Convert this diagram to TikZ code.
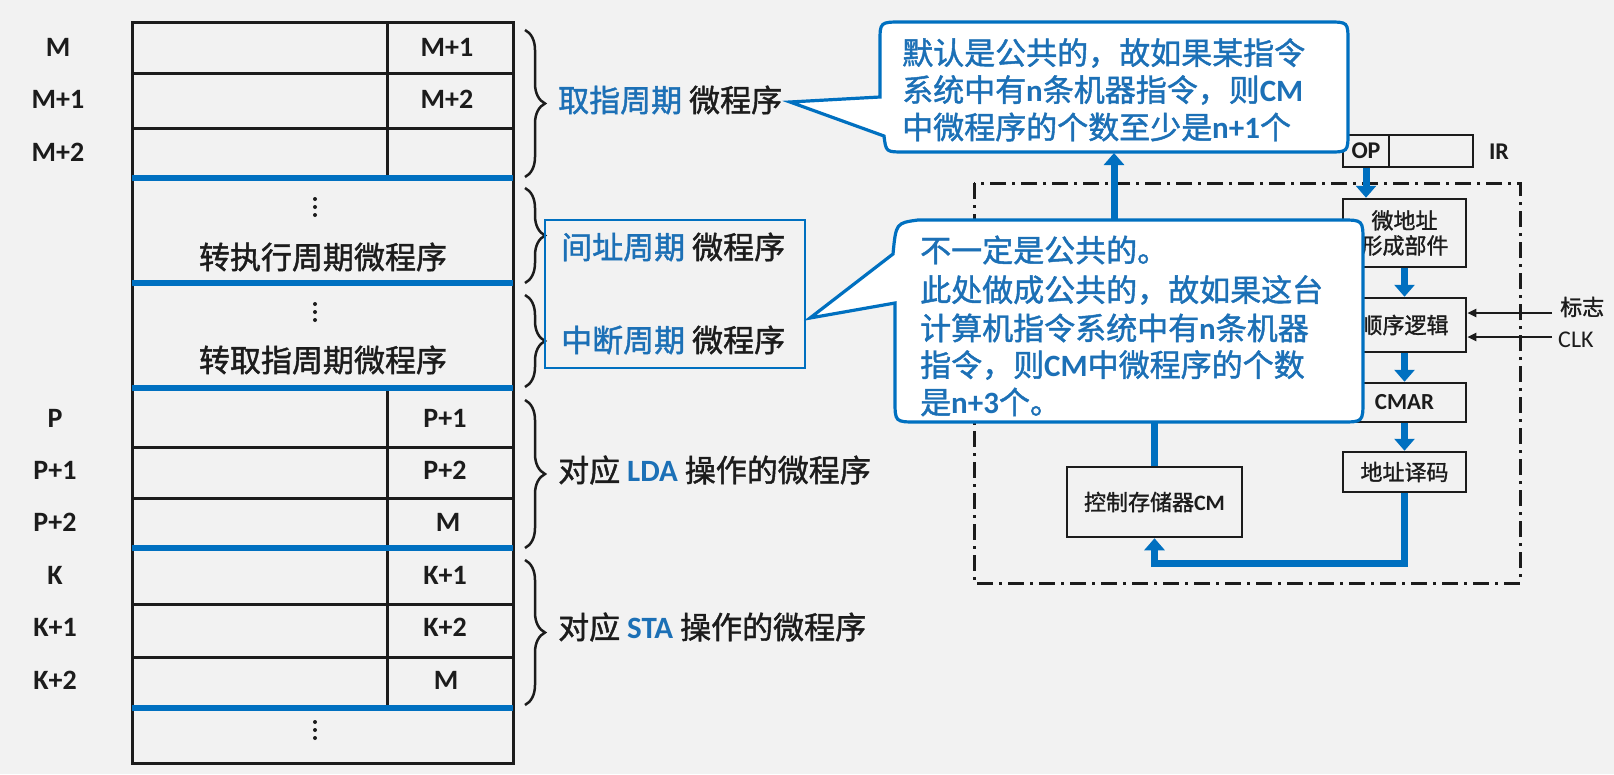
\documentclass[tikz,border=0pt]{standalone}
\usepackage{fontspec}
\setmainfont{Carlito}
\newfontfamily\cjk[FakeBold=1.4]{Noto Sans CJK SC}
\newfontfamily\lat{Carlito}
\newcommand\latb{\lat\bfseries}
\usetikzlibrary{arrows.meta,decorations.pathreplacing,calc}
\definecolor{lblue}{RGB}{0,112,192}
\definecolor{tblue}{RGB}{28,112,182}
\definecolor{ink}{RGB}{28,28,28}
\definecolor{bgc}{RGB}{242,242,242}
\begin{document}
\begin{tikzpicture}[x=1pt,y=-1pt,
  tabl/.style={draw=ink,line width=3pt},
  sepl/.style={draw=lblue,line width=6pt},
  rowlab/.style={font=\latb\fontsize{28}{32}\selectfont,text=ink,inner sep=0},
  cntext/.style={font=\cjk\fontsize{31}{36}\selectfont,text=ink,inner sep=0},
  brc/.style={draw=ink,line width=2.5pt,decorate,decoration={brace,amplitude=20pt}},
  blk/.style={draw=ink,line width=2.5pt,inner sep=0,font=\cjk\fontsize{22}{25}\selectfont,text=ink,align=center},
  barrow/.style={draw=lblue,line width=7pt,-{Triangle[width=20pt,length=12pt]}},
  karrow/.style={draw=ink,line width=2.2pt,-{Triangle[width=8pt,length=9pt]}},
  callout/.style={draw=lblue,line width=3.2pt,fill=white},
  ctext/.style={font=\cjk\fontsize{31}{36}\selectfont,text=tblue,inner sep=0,anchor=west},
  dashbox/.style={draw=ink,line width=3pt,dash pattern=on 16pt off 6pt on 3pt off 6pt}
]
\useasboundingbox (0,0) rectangle (1614,774);
\fill[bgc] (0,0) rectangle (1614,774);

% ---------------- table ----------------
\draw[tabl] (132,22) rectangle (513,763);
\foreach \yy in {73,128,447,498,604,657} \draw[tabl] (132,\yy) -- (513,\yy);
\draw[tabl] (387,22) -- (387,178);
\draw[tabl] (387,388) -- (387,548);
\draw[tabl] (387,548) -- (387,708);
\foreach \yy in {178,283,388,548,708} \draw[sepl] (132,\yy) -- (513,\yy);

\foreach \cy in {207,312,730}{
  \fill[ink] (315,\cy-8) circle[radius=2pt];
  \fill[ink] (315,\cy) circle[radius=2pt];
  \fill[ink] (315,\cy+8) circle[radius=2pt];
}
\node[cntext] (zx) at (323,257) {转执行周期微程序};
\node[cntext] (zq) at (323,360) {转取指周期微程序};

\node[rowlab] (r1) at (58,47) {M};
\node[rowlab] (r2) at (58,99) {M+1};
\node[rowlab] (r3) at (58,152) {M+2};
\node[rowlab] (r4) at (55,418) {P};
\node[rowlab] (r5) at (55,470) {P+1};
\node[rowlab] (r6) at (55,522) {P+2};
\node[rowlab] (r7) at (55,575) {K};
\node[rowlab] (r8) at (55,627) {K+1};
\node[rowlab] (r9) at (55,680) {K+2};

\node[rowlab] (n1) at (447,47) {M+1};
\node[rowlab] (n2) at (447,99) {M+2};
\node[rowlab] (n4) at (445,418) {P+1};
\node[rowlab] (n5) at (445,470) {P+2};
\node[rowlab] (n6) at (448,522) {M};
\node[rowlab] (n7) at (445,575) {K+1};
\node[rowlab] (n8) at (445,627) {K+2};
\node[rowlab] (n9) at (446,680) {M};

% ---------------- braces and labels ----------------
\draw[brc] (525,30) -- (525,177);
\draw[brc] (525,188) -- (525,283);
\draw[brc] (525,295) -- (525,387);
\draw[brc] (525,400) -- (525,548);
\draw[brc] (525,560) -- (525,705);

\node[cntext,anchor=west] (lqz) at (558,100) {\textcolor{tblue}{取指周期} 微程序};
\node[draw=lblue,line width=2.8pt,minimum width=260,minimum height=148,inner sep=0] (lbox) at (675,294) {};
\node[cntext,anchor=west] (ljz) at (561,247) {\textcolor{tblue}{间址周期} 微程序};
\node[cntext,anchor=west] (lzd) at (561,340) {\textcolor{tblue}{中断周期} 微程序};
\node[cntext,anchor=west] (llda) at (558,470) {对应 \textcolor{tblue}{\latb LDA} 操作的微程序};
\node[cntext,anchor=west] (lsta) at (558,627) {对应 \textcolor{tblue}{\latb STA} 操作的微程序};

% ---------------- control unit ----------------
\draw[dashbox] (974,183) rectangle (1520,583);

\node[blk,minimum width=46,minimum height=32] (op) at (1366,151) {\latb\fontsize{24}{28}\selectfont OP};
\node[blk,minimum width=84,minimum height=32] (irr) at (1431,151) {};
\node[font=\latb\fontsize{24}{28}\selectfont,text=ink,inner sep=0] (irl) at (1499,152) {IR};

\node[blk,minimum width=123,minimum height=68] (wdz) at (1404.5,233) {微地址\\形成部件};
\node[blk,minimum width=123,minimum height=54] (sxlj) at (1404.5,325) {顺序逻辑};
\node[blk,minimum width=123,minimum height=39] (cmar) at (1404.5,402.5) {\latb\fontsize{23}{26}\selectfont CMAR};
\node[blk,minimum width=123,minimum height=40] (dzym) at (1404.5,472) {地址译码};
\node[blk,minimum width=175,minimum height=70] (cm) at (1154.5,502) {控制存储器{\latb CM}};

\draw[barrow] (op.south) -- (op.south |- wdz.north);
\draw[barrow] (wdz.south) -- (sxlj.north);
\draw[barrow] (sxlj.south) -- (cmar.north);
\draw[barrow] (cmar.south) -- (dzym.north);
\coordinate (lp) at (1154.5,563);
\draw[barrow] (dzym.south) |- (lp) -- (cm.south);

\node[font=\cjk\fontsize{22}{26}\selectfont,text=ink,inner sep=0,anchor=west] (bz) at (1560,307) {标志};
\node[font=\lat\fontsize{24}{28}\selectfont,text=ink,inner sep=0,anchor=west] (clk) at (1558,340) {CLK};
\coordinate (bzs) at (1552,313);
\coordinate (clks) at (1552,337);
\draw[karrow] (bzs) -- (bzs -| sxlj.east);
\draw[karrow] (clks) -- (clks -| sxlj.east);

% ---------------- callout 1 ----------------
\draw[callout] (902,22) -- (1328,22) .. controls (1348,22) .. (1348,42) -- (1348,132)
  .. controls (1348,152) .. (1328,152) -- (904,152) .. controls (886,152) .. (884,136)
  -- (790,102) -- (880,97) -- (880,42) .. controls (880,22) .. (902,22) -- cycle;

% CM output towards callout 1 (partly hidden by callout 2)
\coordinate (h1) at (1154.5,300);
\coordinate (h2) at (1114,300);
\coordinate (c1b) at (1114,153);
\draw[barrow] (cm.north) -- (h1) -- (h2) -- (c1b);

% ---------------- callout 2 ----------------
\draw[callout] (918,220) -- (1341,220) .. controls (1363,220) .. (1363,242) -- (1363,400)
  .. controls (1363,422) .. (1341,422) -- (917,422) .. controls (895,422) .. (895,400)
  -- (895,303) -- (810,318) -- (893,254) .. controls (896,223) .. (918,220) -- cycle;

\node[ctext] (t11) at (902,53) {默认是公共的，故如果某指令};
\node[ctext] (t12) at (902,90) {系统中有{\latb n}条机器指令，则{\latb CM}};
\node[ctext] (t13) at (902,127) {中微程序的个数至少是{\latb n+1}个};

\node[ctext] (t21) at (920,250) {不一定是公共的。};
\node[ctext] (t22) at (920,290) {此处做成公共的，故如果这台};
\node[ctext] (t23) at (920,328) {计算机指令系统中有{\latb n}条机器};
\node[ctext] (t24) at (920,365) {指令，则{\latb CM}中微程序的个数};
\node[ctext] (t25) at (920,402) {是{\latb n+3}个。};
\end{tikzpicture}
\end{document}
